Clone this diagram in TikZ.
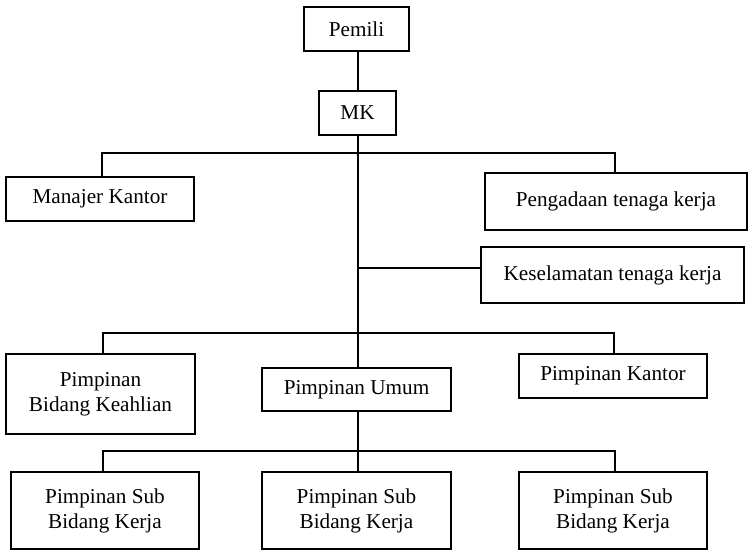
\documentclass[tikz,border=0pt]{standalone}
\usepackage{fontspec}
\setmainfont{Liberation Serif}
\begin{document}
\begin{tikzpicture}[x=1pt,y=-1pt,
  every node/.style={font=\fontsize{21.2}{25}\selectfont},
  orgbox/.style={draw,line width=1.8pt,rectangle,inner sep=0pt,align=center},
  link/.style={line width=1.8pt}]
\useasboundingbox (0,0) rectangle (750,551);

% boxes
\node[orgbox,minimum width=105pt,minimum height=44pt] (pemili) at (356.5,29) {Pemili};
\node[orgbox,minimum width=77pt,minimum height=44pt] (mk) at (357.5,113) {MK};
\node[orgbox,minimum width=188pt,minimum height=44pt] (manajer) at (100,199) {Manajer Kantor};
\node[orgbox,minimum width=262pt,minimum height=57pt] (pengadaan) at (616,201.5) {Pengadaan tenaga kerja};
\node[orgbox,minimum width=263pt,minimum height=56pt] (keselamatan) at (612.5,275) {\raisebox{3pt}{Keselamatan tenaga kerja}};
\node[orgbox,minimum width=189pt,minimum height=80pt] (keahlian) at (100.5,394) {Pimpinan\\Bidang Keahlian};
\node[orgbox,minimum width=189pt,minimum height=43pt] (umum) at (356.5,389.5) {Pimpinan Umum};
\node[orgbox,minimum width=188pt,minimum height=44pt] (kantor) at (613,376) {Pimpinan Kantor};
\node[orgbox,minimum width=188pt,minimum height=77pt] (suba) at (105,510.5) {Pimpinan Sub\\Bidang Kerja};
\node[orgbox,minimum width=189pt,minimum height=77pt] (subb) at (356.5,510.5) {Pimpinan Sub\\Bidang Kerja};
\node[orgbox,minimum width=188pt,minimum height=77pt] (subc) at (613,510.5) {Pimpinan Sub\\Bidang Kerja};

% bus points on the main trunk
\coordinate (busa) at (358,153);
\coordinate (busk) at (358,268);
\coordinate (busb) at (358,333);
\coordinate (busc) at (358,451);

% connectors
\draw[link] ([xshift=1.5pt]pemili.south) -- ([xshift=0.5pt]mk.north);
\draw[link] ([xshift=0.5pt]mk.south) -- ([xshift=1.5pt]umum.north);
\draw[link] ([xshift=2pt]manajer.north) |- (busa) -| ([xshift=-1pt]pengadaan.north);
\draw[link] (busk) -- (busk -| keselamatan.west);
\draw[link] ([xshift=2.5pt]keahlian.north) |- (busb) -| ([xshift=1pt]kantor.north);
\draw[link] ([xshift=1.5pt]umum.south) -- (busc);
\draw[link] ([xshift=-2pt]suba.north) |- (busc) -| ([xshift=2pt]subc.north);
\draw[link] (busc) -- ([xshift=1.5pt]subb.north);
\end{tikzpicture}
\end{document}
